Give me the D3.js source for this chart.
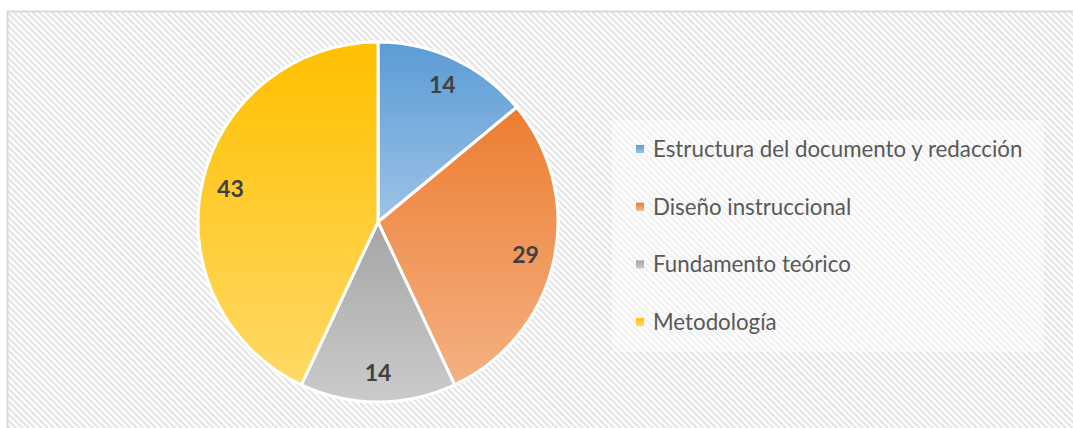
<!DOCTYPE html>
<html>
<head>
<meta charset="utf-8">
<script src="https://cdn.jsdelivr.net/npm/d3@7"></script>
<style>
	body { margin: 0; background: #ffffff; }
	svg { display: block; }
</style>
</head>
<body>
<div id="chart"></div>
<script>
	// datos del grafico
	var categorias = ["Estructura del documento y redacción", "Diseño instruccional", "Fundamento teórico", "Metodología"];
	var valores = [14, 29, 14, 43];
	var coloresTop = ["#5b9bd5", "#ed7d31", "#a5a5a5", "#ffc000"];
	var coloresBottom = ["#9dc3e6", "#f4b183", "#cbcbcb", "#ffd966"];

	var width = 1073, height = 428;
	var cx = 378, cy = 222, radius = 180;

	var svg = d3.select("#chart").append("svg")
		.attr("width", width)
		.attr("height", height);

	var defs = svg.append("defs");

	// fondo rayado
	var pat = defs.append("pattern")
		.attr("id", "hatch")
		.attr("patternUnits", "userSpaceOnUse")
		.attr("width", 4.5).attr("height", 4.5)
		.attr("patternTransform", "rotate(-45)");
	pat.append("rect").attr("width", 4.5).attr("height", 4.5).attr("fill", "#ffffff");
	pat.append("rect").attr("width", 2.2).attr("height", 4.5).attr("fill", "#e4e4e4");

	svg.append("rect")
		.attr("x", 7.5).attr("y", 11.5)
		.attr("width", width + 10).attr("height", height + 10)
		.attr("fill", "url(#hatch)")
		.attr("stroke", "#d9d9d9")
		.attr("stroke-width", 2);

	// gradientes
	valores.forEach(function(v, i){
		var g = defs.append("linearGradient")
			.attr("id", "grad" + i)
			.attr("x1", 0).attr("y1", 0).attr("x2", 0).attr("y2", 1);
		g.append("stop").attr("offset", "0%").attr("stop-color", coloresTop[i]);
		g.append("stop").attr("offset", "100%").attr("stop-color", coloresBottom[i]);
	});

	var pie = d3.pie().sort(null).value(function(d){ return d; });
	var arc = d3.arc().innerRadius(0).outerRadius(radius);
	var labelArc = d3.arc().innerRadius(radius * 0.84).outerRadius(radius * 0.84);

	var g = svg.append("g").attr("transform", "translate(" + cx + "," + cy + ")");
	var arcs = pie(valores);

	g.selectAll("path")
		.data(arcs)
		.enter()
		.append("path")
		.attr("d", arc)
		.attr("fill", function(d, i){ return "url(#grad" + i + ")"; })
		.attr("stroke", "#ffffff")
		.attr("stroke-width", 3)
		.attr("stroke-linejoin", "round");

	g.selectAll("text")
		.data(arcs)
		.enter()
		.append("text")
		.text(function(d){ return d.data; })
		.attr("x", function(d){ return labelArc.centroid(d)[0]; })
		.attr("y", function(d){ return labelArc.centroid(d)[1]; })
		.attr("dy", "0.35em")
		.attr("text-anchor", "middle")
		.attr("font-family", "Lato, 'Open Sans', sans-serif")
		.attr("font-weight", "bold")
		.attr("font-size", "23px")
		.attr("fill", "#404040");

	// leyenda
	svg.append("rect")
		.attr("x", 612).attr("y", 120)
		.attr("width", 432).attr("height", 232)
		.attr("fill", "#ffffff")
		.attr("opacity", 0.45);

	var leg = svg.append("g").selectAll("g")
		.data(categorias)
		.enter()
		.append("g")
		.attr("transform", function(d, i){ return "translate(636," + (149 + i * 57.7) + ")"; });

	leg.append("rect")
		.attr("x", 0).attr("y", -4)
		.attr("width", 8).attr("height", 8)
		.attr("fill", function(d, i){ return "url(#grad" + i + ")"; });

	leg.append("text")
		.text(function(d){ return d; })
		.attr("x", 17)
		.attr("y", 0)
		.attr("dy", "0.35em")
		.attr("font-family", "Lato, 'Open Sans', sans-serif")
		.attr("font-size", "22.3px")
		.attr("fill", "#595959");
</script>
</body>
</html>
